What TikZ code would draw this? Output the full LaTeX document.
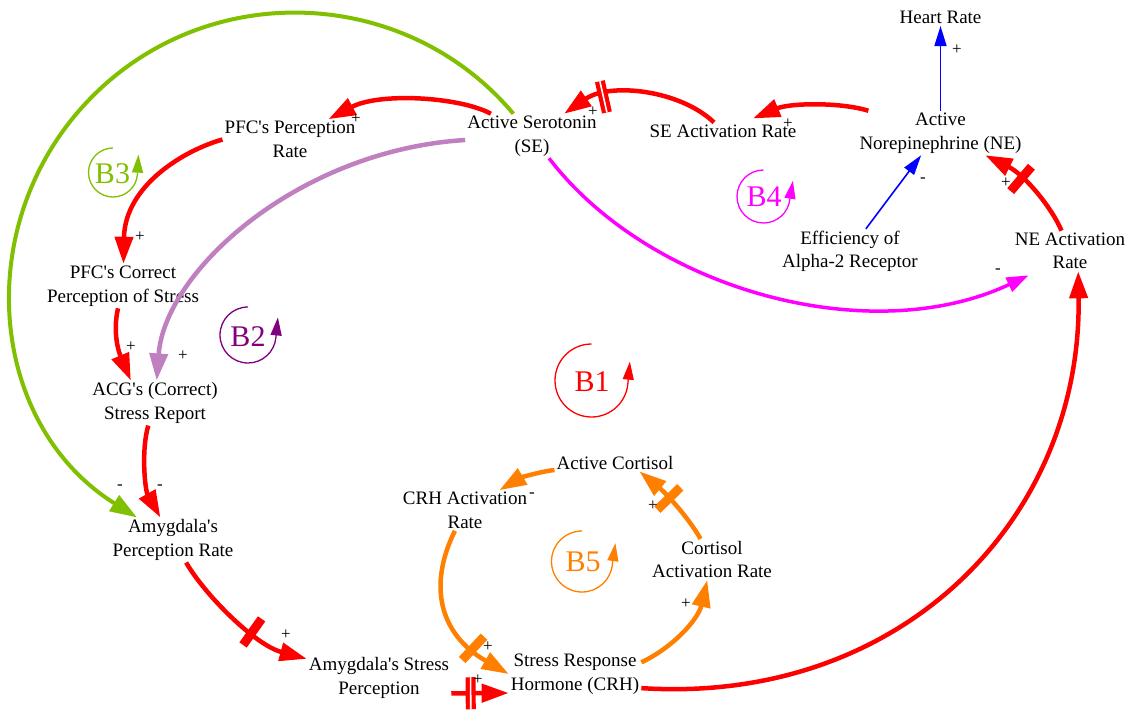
\documentclass[tikz,border=0pt]{standalone}
\usepackage{fontspec}
\setmainfont{Liberation Serif}[Ligatures=TeXOff]
\usetikzlibrary{arrows.meta,decorations.markings}
\definecolor{cred}{RGB}{255,0,0}
\definecolor{cgreen}{RGB}{128,192,0}
\definecolor{clav}{RGB}{192,128,192}
\definecolor{cpurple}{RGB}{128,0,128}
\definecolor{cmag}{RGB}{255,0,255}
\definecolor{cblue}{RGB}{0,0,255}
\definecolor{corange}{RGB}{255,128,0}
\tikzset{
  var/.style={font=\fontsize{19}{23.5}\selectfont, align=center, inner sep=2pt, text=black},
  sgn/.style={font=\fontsize{17}{18}\selectfont, inner sep=0pt, text=black},
  loopname/.style={font=\fontsize{30}{32}\selectfont, inner sep=0pt},
  link/.style={line width=4.5pt, -{Triangle[length=27pt,width=18pt]}},
  thinlink/.style={line width=1.6pt, cblue, -{Triangle[length=20pt,width=12pt]}},
  onebar/.style 2 args={postaction={decorate,decoration={markings,
      mark=at position #1 with {\fill[#2] (-4.5pt,-16pt) rectangle (4.5pt,16pt);}}}},
  twobar/.style 2 args={postaction={decorate,decoration={markings,
      mark=at position #1 with {\fill[#2] (-5pt,-16pt) rectangle (5pt,16pt);
        \fill[white] (-0.8pt,-16pt) rectangle (0.8pt,16pt);}}}},
  loopmark/.style={line width=1.3pt, -{Triangle[length=18pt,width=11pt]}},
}
\begin{document}
\begin{tikzpicture}[x=1pt,y=-1pt]
\useasboundingbox (0,0) rectangle (1130,717);
\fill[white] (0,0) rectangle (1130,717);

% variables
\node[var] (hr)   at (940.5,17.5) {Heart Rate};
\node[var] (ne)   at (940.5,133) {Active\\Norepinephrine (NE)};
\node[var] (sear) at (723,131) {SE Activation Rate};
\node[var] (se)   at (532,136) {Active Serotonin\\(SE)};
\node[var] (pfcr) at (290,139.5) {PFC's Perception\\Rate};
\node[var] (pfcc) at (123,286) {PFC's Correct\\Perception of Stress};
\node[var] (acg)  at (155,403) {ACG's (Correct)\\Stress Report};
\node[var] (apr)  at (173,540) {Amygdala's\\Perception Rate};
\node[var] (asp)  at (379,678) {Amygdala's Stress\\Perception};
\node[var] (srh)  at (575,674) {Stress Response\\Hormone (CRH)};
\node[var] (crh)  at (465,510.5) {CRH Activation\\Rate};
\node[var] (ac)   at (615,462.5) {Active Cortisol};
\node[var] (car)  at (712,559.5) {Cortisol\\Activation Rate};
\node[var] (eff)  at (850,251.5) {Efficiency of\\Alpha-2 Receptor};
\node[var] (near) at (1070,251) {NE Activation\\Rate};

% loop markers
\node[loopname, text=cred] (b1) at (592,382) {B1};
\draw[loopmark, cred] (591.5,344) arc[start angle=270, end angle=5, radius=36.5] -- ++(2,-22);
\node[loopname, text=cpurple] (b2) at (248,337) {B2};
\draw[loopmark, cpurple] (248,307) arc[start angle=270, end angle=5, radius=28] -- ++(2,-20);
\node[loopname, text=cgreen] (b3) at (112.5,174) {B3};
\draw[loopmark, cgreen] (113,148) arc[start angle=270, end angle=5, radius=24.5] -- ++(1,-20);
\node[loopname, text=cmag] (b4) at (764,197) {B4};
\draw[loopmark, cmag] (763.5,170) arc[start angle=270, end angle=5, radius=26.5] -- ++(3,-18);
\node[loopname, text=corange] (b5) at (583,562) {B5};
\draw[loopmark, corange] (582,531) arc[start angle=270, end angle=5, radius=30.5] -- ++(3,-21);

% connectors
\draw[link, cred] (se) .. controls (460,97) and (380,92) .. (pfcr);
\draw[link, cred] (pfcr.west) .. controls (185,150) and (125,185) .. (pfcc);
\draw[link, cred] (pfcc) .. controls (112,335) and (120,355) .. (acg.137);
\draw[link, clav] (se) .. controls (300,150) and (165,270) .. (acg);
\draw[link, cred] (acg) .. controls (141,450) and (145,490) .. (apr);
\draw[link, cred, onebar={-61pt}{cred}] (apr) .. controls (205,595) and (255,645) .. (asp);
\draw[link, cgreen, line width=4pt] (se) .. controls (405.4,-14.9) and (205.4,-22.8) .. (87.7,101.2)
   .. controls (-30,225.2) and (-11.6,424.5) .. (apr);
\draw[link, corange, onebar={-44pt}{corange}] (crh) .. controls (428,585) and (439,634) .. (srh.west);
\draw[link, cred, twobar={-38pt}{cred}] (asp.-12) -- (srh.-164);
\draw[link, corange] (srh.10) .. controls (672,648) and (698,620) .. (car);
\draw[link, corange, onebar={-40pt}{corange}] (car) .. controls (690,520) and (668,495) .. (ac.-20);
\draw[link, corange] (ac) .. controls (538,472) and (520,478) .. (crh);
\draw[link, cred] (srh.-12) .. controls (900,705) and (1082,520) .. (near.-68);
\draw[link, cmag, line width=3.5pt, -{Triangle[length=22pt,width=15pt]}] (se) .. controls (650,290) and (870,350) .. ([shift={(16,4)}]near.south west);
\draw[link, cred, twobar={-43pt}{cred}] (sear) .. controls (680,90) and (610,82) .. (se);
\draw[link, cred] (ne) .. controls (840,102) and (790,103) .. ([xshift=30pt,yshift=4pt]sear.north);
\draw[thinlink] (ne) -- (hr);
\draw[thinlink] (eff.55) -- (ne.229);
\draw[link, cred, onebar={-43pt}{cred}] (near) .. controls (1052,208) and (1025,175) .. (ne);

% polarity signs
\node[sgn] (s1)  at (356,119) {+};
\node[sgn] (s2)  at (140,237) {+};
\node[sgn] (s3)  at (131,347) {+};
\node[sgn] (s4)  at (183,356) {+};
\node[sgn] (s5)  at (120,487) {-};
\node[sgn] (s6)  at (160,487) {-};
\node[sgn] (s7)  at (286,635) {+};
\node[sgn] (s8)  at (488,647) {+};
\node[sgn] (s9)  at (478,680) {+};
\node[sgn] (s10) at (686,604) {+};
\node[sgn] (s11) at (653,506) {+};
\node[sgn] (s12) at (532,495) {-};
\node[sgn] (s13) at (593,112) {+};
\node[sgn] (s14) at (788,124) {+};
\node[sgn] (s15) at (957,50) {+};
\node[sgn] (s16) at (923,180) {-};
\node[sgn] (s17) at (1006,183) {+};
\node[sgn] (s18) at (998,271) {-};
\end{tikzpicture}
\end{document}
